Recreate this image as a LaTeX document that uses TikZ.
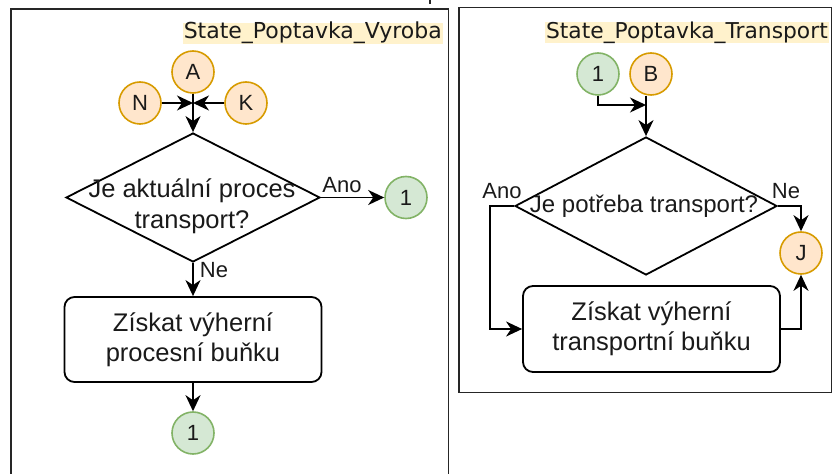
\documentclass[tikz,border=0pt]{standalone}
\usepackage{fontspec}
\setmainfont{Liberation Sans}
\newfontfamily\djv{DejaVu Sans}
\usetikzlibrary{shapes.geometric,arrows.meta}
\definecolor{orfill}{HTML}{FFE6CC}
\definecolor{ordraw}{HTML}{D79B00}
\definecolor{grfill}{HTML}{D5E8D4}
\definecolor{grdraw}{HTML}{82B366}
\definecolor{lblfill}{HTML}{FFF2CC}
\definecolor{ink}{HTML}{1A1A1A}
\begin{document}
\begin{tikzpicture}[x=1bp,y=-1bp,
  ocirc/.style={circle,draw=ordraw,fill=orfill,line width=1.6bp,minimum size=42bp,inner sep=0pt,text=ink,font=\fontsize{22bp}{24bp}\selectfont},
  gcirc/.style={ocirc,draw=grdraw,fill=grfill},
  dia/.style={diamond,draw,line width=1.8bp,inner sep=0pt},
  txt/.style={align=center,inner sep=0pt,text=ink,font=\fontsize{25.5bp}{31bp}\selectfont},
  proc/.style={rectangle,rounded corners=10bp,draw,line width=1.8bp,align=center,inner sep=0pt,text=ink,font=\fontsize{25.5bp}{30bp}\selectfont},
  elab/.style={inner sep=0pt,text=ink,font=\fontsize{22bp}{24bp}\selectfont},
  statelbl/.style={fill=lblfill,inner xsep=1bp,inner ysep=0pt,text=ink,text height=16bp,text depth=5bp,font=\djv\fontsize{22bp}{24bp}\selectfont},
  frame/.style={line width=1.9bp,draw=black!85},
  arr/.style={line width=1.8bp,-{Stealth[length=16bp,width=15bp,inset=5bp]}},
  ln/.style={line width=1.8bp}]
\useasboundingbox (0,0) rectangle (833,474);

% frames
\draw[frame] (11,474) -- (11,9) -- (448.5,9) -- (448.5,474);
\draw[frame] (459,7.5) rectangle (831.5,392.5);
\draw[frame] (430,0) -- (430,4);

% ---------- left: State_Poptavka_Vyroba ----------
\node[statelbl,anchor=east] (lblV) at (443,33.5) {State\_Poptavka\_Vyroba};
\node[ocirc] (A) at (193,72) {A};
\node[ocirc] (N) at (140,103) {N};
\node[ocirc] (K) at (246,103) {K};
\coordinate (j1) at (193,103);
\node[dia,minimum width=254bp,minimum height=129bp] (D1) at (193,197.5) {};
\node[txt] (D1t) at (192,206) {Je aktuální proces\\transport?};
\node[gcirc] (C1) at (406,197.5) {1};
\node[proc,minimum width=257bp,minimum height=85bp] (P1) at (193,339.5) {Získat výherní\\procesní buňku};
\node[gcirc] (C2) at (193,433) {1};

\draw[arr] (N) -- (j1);
\draw[arr] (K) -- (j1);
\draw[arr] (A) -- (D1.north);
\draw[arr] (D1.east) -- (C1);
\node[elab] (lAno1) at (342,185.5) {Ano};
\draw[arr] (D1.south) -- (P1.north);
\node[elab] (lNe1) at (214,270.5) {Ne};
\draw[arr] (P1.south) -- (C2);

% ---------- right: State_Poptavka_Transport ----------
\node[statelbl,anchor=east,font=\djv\fontsize{21.8bp}{24bp}\selectfont] (lblT) at (829,33) {State\_Poptavka\_Transport};
\node[gcirc] (R1) at (598,74) {1};
\node[ocirc] (B) at (651,74) {B};
\node[dia,minimum width=262bp,minimum height=138bp] (D2) at (646,206) {};
\node[txt,font=\fontsize{24bp}{28bp}\selectfont] (D2t) at (644,206) {Je potřeba transport?};
\coordinate (j2) at (646,105);
\node[ocirc] (J) at (801,253) {J};
\node[proc,minimum width=257bp,minimum height=86bp] (P2) at (651.5,329) {Získat výherní\\transportní buňku};

\draw[arr] (R1.south) |- (j2);
\draw[arr] (D2.north |- B.south) -- (D2.north);
\draw[arr] (D2.west) -- ++(-24,0) |- (P2.west);
\node[elab] (lAno2) at (502,191) {Ano};
\draw[arr] (D2.east) -| (J.north);
\node[elab] (lNe2) at (786,191) {Ne};
\draw[arr] (P2.east) -| (J.south);
\end{tikzpicture}
\end{document}
